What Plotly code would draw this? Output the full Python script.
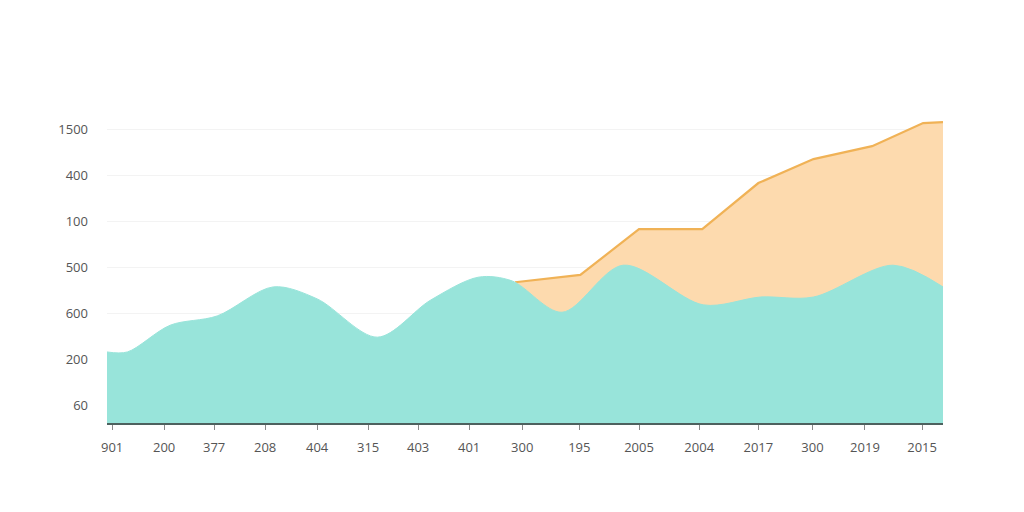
import plotly.graph_objects as go

# Category tick labels along the x axis and their positions on the numeric axis
x_tick_labels = ["901", "200", "377", "208", "404", "315", "403", "401", "300",
                 "195", "2005", "2004", "2017", "300", "2019", "2015"]
x_tick_values = [0, 1.02, 2.0, 3.0, 4.02, 5.02, 6.0, 7.0, 8.04, 9.16,
                 10.33, 11.51, 12.67, 13.73, 14.76, 15.88]

# Y axis tick labels (as printed) at evenly spaced levels
y_tick_labels = ["60", "200", "600", "500", "100", "400", "1500"]
y_tick_values = [0.37, 1.37, 2.37, 3.37, 4.37, 5.37, 6.37]

# Teal series (smooth area)
teal_x = [-0.10, 0.30, 1.14, 2.06, 3.16, 4.02, 5.20, 6.24, 7.18, 7.84,
          8.82, 10.02, 11.59, 12.71, 13.75, 15.31, 16.29]
teal_y = [1.54, 1.54, 2.12, 2.32, 2.95, 2.69, 1.86, 2.66, 3.16, 3.08,
          2.40, 3.42, 2.56, 2.73, 2.73, 3.42, 2.95]

# Orange series (straight segments)
orange_x = [7.90, 9.18, 10.33, 11.57, 12.67, 13.75, 14.90, 15.90, 16.29]
orange_y = [3.05, 3.21, 4.20, 4.20, 5.20, 5.72, 6.00, 6.50, 6.52]

fig = go.Figure()

fig.add_trace(go.Scatter(
    x=orange_x, y=orange_y, mode="lines", fill="tozeroy",
    line=dict(color="#f0b256", width=2.2),
    fillcolor="#fddaae", hoverinfo="skip", showlegend=False,
))
fig.add_trace(go.Scatter(
    x=teal_x, y=teal_y, mode="lines", fill="tozeroy",
    line=dict(color="#98e4da", width=1, shape="spline", smoothing=0.9),
    fillcolor="#98e4da", hoverinfo="skip", showlegend=False,
))

fig.update_layout(
    width=1024, height=512,
    margin=dict(l=107, r=81, t=106, b=89),
    paper_bgcolor="white", plot_bgcolor="white",
    font=dict(family="Open Sans", size=13, color="#555555"),
    xaxis=dict(
        range=[-0.10, 16.29], tickmode="array",
        tickvals=x_tick_values, ticktext=x_tick_labels,
        showgrid=False, zeroline=False,
        showline=True, linecolor="#4d615e", linewidth=2,
        ticks="outside", ticklen=5, tickcolor="#8a8a8a", tickwidth=1,
        ticklabelstandoff=6,
    ),
    yaxis=dict(
        range=[0, 6.87], tickmode="array",
        tickvals=y_tick_values, ticktext=y_tick_labels,
        showgrid=True, gridcolor="#f3f3f3", gridwidth=1,
        zeroline=False, showline=False,
        ticks="", ticklabelstandoff=18,
    ),
)

fig.write_html("out.html")
